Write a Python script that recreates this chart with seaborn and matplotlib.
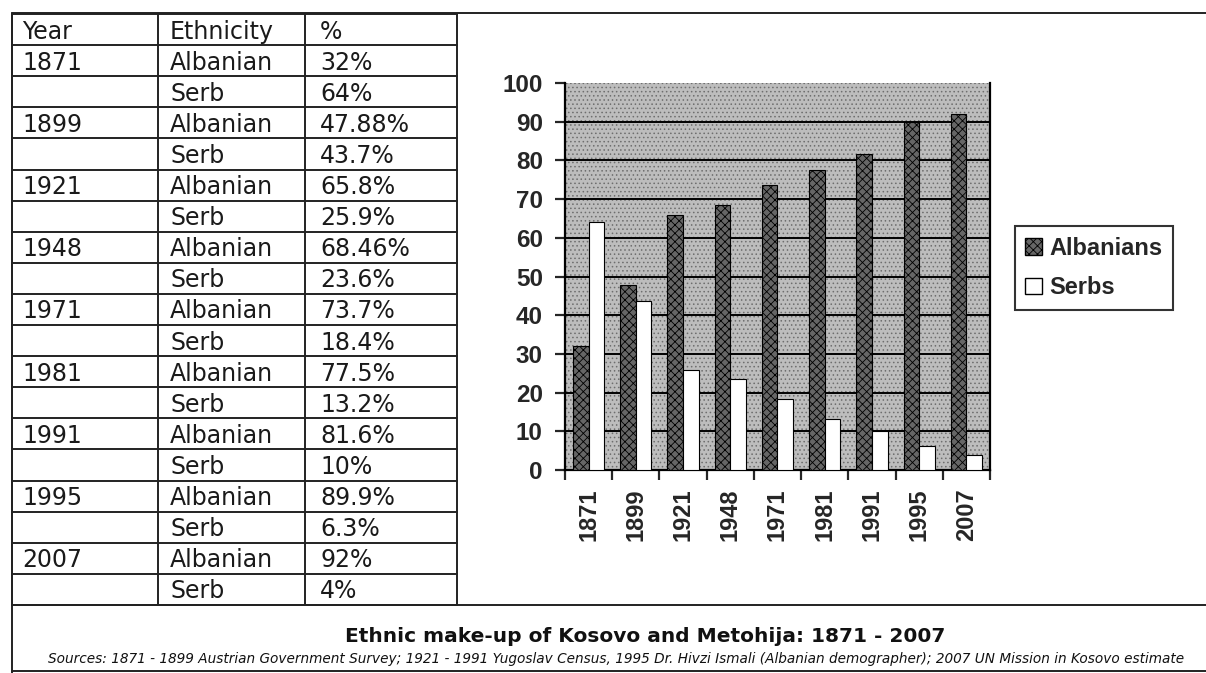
import numpy as np
import pandas as pd
import matplotlib
matplotlib.use("Agg")
import matplotlib.pyplot as plt
import seaborn as sns
from matplotlib.patches import Patch, Rectangle

years = ["1871", "1899", "1921", "1948", "1971", "1981", "1991", "1995", "2007"]
albanian = [32, 47.88, 65.8, 68.46, 73.7, 77.5, 81.6, 89.9, 92]
serb = [64, 43.7, 25.9, 23.6, 18.4, 13.2, 10, 6.3, 4]
albanian_txt = ["32%", "47.88%", "65.8%", "68.46%", "73.7%", "77.5%", "81.6%", "89.9%", "92%"]
serb_txt = ["64%", "43.7%", "25.9%", "23.6%", "18.4%", "13.2%", "10%", "6.3%", "4%"]
headers = ["Year", "Ethnicity", "%"]
series = ["Albanians", "Serbs"]

title = "Ethnic make-up of Kosovo and Metohija: 1871 - 2007"
sources = ("Sources: 1871 - 1899 Austrian Government Survey; 1921 - 1991 Yugoslav Census, "
           "1995 Dr. Hivzi Ismali (Albanian demographer); 2007 UN Mission in Kosovo estimate")

df = pd.DataFrame({
    "year": years * 2,
    "pct": albanian + serb,
    "group": [series[0]] * len(years) + [series[1]] * len(years),
})

sns.set_style("white")
plt.rcParams["hatch.color"] = "black"
plt.rcParams["hatch.linewidth"] = 0.6

W, H = 1206, 673
fig = plt.figure(figsize=(W / 100, H / 100), dpi=100)
fig.patch.set_facecolor("white")

# page overlay in pixel coords: frame, table, caption
pg = fig.add_axes([0, 0, 1, 1])
pg.set_xlim(0, W)
pg.set_ylim(H, 0)
pg.axis("off")

ln = dict(color="#222222", lw=1.4)
pg.plot([12, W], [13, 13], **ln)
pg.plot([12, 12], [13, H], **ln)
pg.plot([12, W], [605, 605], **ln)
pg.plot([12, W], [671, 671], **ln)

rows_y = np.linspace(14, 605, 20)
col_x = [12, 158, 305, 457]
for x in col_x:
    pg.plot([x, x], [rows_y[0], rows_y[-1]], **ln)
for y in rows_y:
    pg.plot([col_x[0], col_x[-1]], [y, y], **ln)

rows = [headers]
for yr, a, s in zip(years, albanian_txt, serb_txt):
    rows.append([yr, "Albanian", a])
    rows.append(["", "Serb", s])
text_x = [22, 170, 320]
for i, row in enumerate(rows):
    yc = (rows_y[i] + rows_y[i + 1]) / 2 + 2
    for x, t in zip(text_x, row):
        pg.text(x, yc, t, fontsize=17, family="DejaVu Sans", color="#1a1a1a",
                va="center", ha="left")

pg.text(645, 636, title, fontsize=14.5, weight="bold", family="DejaVu Sans",
        ha="center", va="center", color="#111111")
pg.text(616, 659, sources, fontsize=9.8, style="italic", family="DejaVu Sans",
        ha="center", va="center", color="#111111")

# bar chart
ax = fig.add_axes([565 / W, 1 - 470 / H, (990 - 565) / W, (470 - 83) / H])
ax.add_patch(Rectangle((0, 0), 1, 1, transform=ax.transAxes, facecolor="#bdbdbd",
                       edgecolor="#6e6e6e", hatch="....", lw=0, zorder=0))
sns.barplot(data=df, x="year", y="pct", hue="group", palette=["#666666", "white"],
            width=0.66, edgecolor="black", linewidth=0.8, legend=False, ax=ax, zorder=3)
for bar in ax.containers[0]:
    bar.set_hatch("xxxx")

ax.set_ylim(0, 100)
ax.set_xlim(-0.5, len(years) - 0.5)
ax.set_yticks(range(0, 101, 10))
for v in range(10, 100, 10):
    ax.axhline(v, color="black", lw=1.4, zorder=1)
ax.set_xlabel("")
ax.set_ylabel("")
for sp in ax.spines.values():
    sp.set_visible(True)
    sp.set_color("black")
    sp.set_linewidth(1.6)
ax.spines["top"].set_visible(False)

ax.tick_params(axis="y", left=True, length=7, width=1.6, labelsize=17.5, pad=9)
ax.tick_params(axis="x", bottom=False, labelsize=17, labelrotation=90, pad=10)
ax.set_xticks(np.arange(-0.5, len(years)), minor=True)
ax.tick_params(axis="x", which="minor", bottom=True, length=7, width=1.6)
for lab in ax.get_xticklabels() + ax.get_yticklabels():
    lab.set_fontweight("bold")
    lab.set_family("Liberation Sans")

handles = [Patch(facecolor="#666666", edgecolor="black", hatch="xxxx", label=series[0]),
           Patch(facecolor="white", edgecolor="black", label=series[1])]
leg = ax.legend(handles=handles, loc="center left",
                bbox_to_anchor=(1003 / W, 1 - 268 / H), bbox_transform=fig.transFigure,
                frameon=True, fancybox=False, handlelength=0.7, handleheight=0.7,
                handletextpad=0.3, borderpad=0.45, labelspacing=0.7,
                prop={"family": "Liberation Sans", "weight": "bold", "size": 17})
leg.get_frame().set_edgecolor("black")
leg.get_frame().set_linewidth(1.5)

fig.savefig("out.png", dpi=100)
